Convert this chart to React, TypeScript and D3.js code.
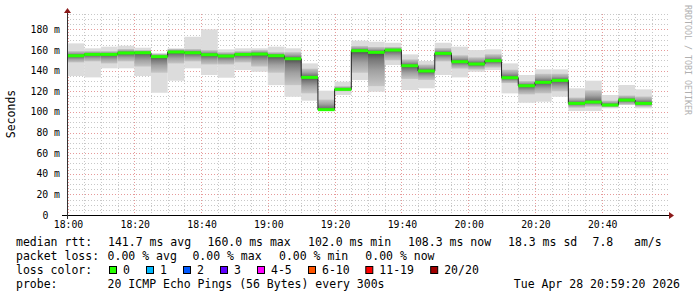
import React from "react";
import * as d3 from "d3";

// minutes after 18:00 at which each 5‑minute interval starts
const starts = d3.range(0, 175, 5);
const medians = [154.5,155.8,155.8,157.2,157.4,153.6,158.1,157.4,155.5,154.2,155.8,156.1,154.5,151.6,133.5,102.2,121.9,159.4,157.8,160.0,144.8,139.7,156.8,148.7,146.5,149.7,133.2,125.4,128.7,130.6,108.3,109.6,106.7,111.5,108.3];
const maxs = [166.5,161.7,163.3,164.2,162.3,156.8,161.7,172.9,180.1,160.7,161.7,161.7,163.3,161.7,147.1,120.6,129.3,169.1,168.1,167.1,155.8,149.4,167.1,163.3,160,160.7,147.1,135.8,141.3,141.3,122.9,130.3,116.4,126.1,121.9];
const mins = [134.8,133.5,142.3,142.3,134.8,118.6,130.3,142.3,135.8,133.2,140.6,139,126,114.7,110.9,101.2,116.4,130.9,119.6,145.5,121.2,122.9,135.8,133.5,139,140.6,118,108.9,109.9,114.7,100.9,100.9,103.5,106.7,103.5];
const upper = [159,159,159,161,160,156.5,161,161,160,158,159,160,158,158,142,112,125,164,163,163,151,146,162,155,153,156,141,130,137,137,114,121,111,116,115];
const lower = [148,149,147,149,144,138,147,149,146,146,148,144,138,126,118,101.5,120,138,125,150,132,131,149,142,141,143,128,117,118,120,104,105,104.5,107,105];

const xTicks = [0, 20, 40, 60, 80, 100, 120, 140, 160];
const xTickLabels = ["18:00","18:20","18:40","19:00","19:20","19:40","20:00","20:20","20:40"];
const yTicks = [0, 20, 40, 60, 80, 100, 120, 140, 160, 180];
const yTickLabels = ["0","20 m","40 m","60 m","80 m","100 m","120 m","140 m","160 m","180 m"];

const lossLabels = ["0","1","2","3","4-5","6-10","11-19","20/20"];
const lossColors = ["#26ff00","#00b8ff","#0059ff","#5e00ff","#ff00ff","#ff5500","#ff0000","#a10000"];

const statRow1 = ["141.7 ms avg","160.0 ms max","102.0 ms min","108.3 ms now","18.3 ms sd","7.8","am/s"];
const statRow2 = ["0.00 % avg","0.00 % max","0.00 % min","0.00 % now"];

const FONT = "'DejaVu Sans Mono', monospace";

export default function App() {
  const W = 697, H = 297;
  const x = d3.scaleLinear().domain([0, 180]).range([67.5, 668.5]);
  const y = d3.scaleLinear().domain([0, 195]).range([215, 14]);
  const px = (v: number) => Math.round(v) + 0.5;
  const plotL = 67, plotR = 668, plotT = 14, plotB = 215;

  const minorY = d3.range(5, 196, 5).filter((v) => v % 20 !== 0);
  const minorX = d3.range(5, 180, 5).filter((v) => v % 20 !== 0);

  const stepLine = d3
    .line<[number, number]>()
    .x((d) => d[0])
    .y((d) => d[1])
    .curve(d3.curveStepAfter);
  const stepPts: [number, number][] = starts.map((s, i) => [x(s), y(medians[i])]);
  stepPts.push([x(starts[starts.length - 1] + 5), y(medians[medians.length - 1])]);

  const rowX1 = [108, 207.6, 308, 408, 508, 592.5, 634];
  const rowX2 = [107.6, 192.4, 279, 365.3];
  const boxX = [109, 146, 183, 220, 257, 308, 365.3, 430.2];

  return (
    <svg width={W} height={H} style={{ position: "absolute", left: 0, top: 0, background: "#fff" }} fontFamily={FONT}>
      <defs>
        <linearGradient id="gUp" x1="0" y1="0" x2="0" y2="1">
          <stop offset="0" stopColor="#c6c6c6" />
          <stop offset="0.45" stopColor="#a2a2a2" />
          <stop offset="0.8" stopColor="#767676" />
          <stop offset="1" stopColor="#4a4a4a" />
        </linearGradient>
        <linearGradient id="gDn" x1="0" y1="0" x2="0" y2="1">
          <stop offset="0" stopColor="#4a4a4a" />
          <stop offset="0.2" stopColor="#767676" />
          <stop offset="0.55" stopColor="#a2a2a2" />
          <stop offset="1" stopColor="#c6c6c6" />
        </linearGradient>
      </defs>
      <rect x={0} y={0} width={W} height={H} fill="#fff" />

      {/* minor grid */}
      <g stroke="#c8c8c8" strokeWidth={1} strokeDasharray="1,2">
        {minorY.map((v) => (
          <line key={"my" + v} x1={plotL} x2={plotR} y1={px(y(v))} y2={px(y(v))} />
        ))}
        {minorX.map((v) => (
          <line key={"mx" + v} y1={plotT} y2={plotB} x1={px(x(v))} x2={px(x(v))} />
        ))}
      </g>
      {/* major grid */}
      <g stroke="#e69a9a" strokeWidth={1} strokeDasharray="1,2">
        {yTicks.slice(1).map((v) => (
          <line key={"My" + v} x1={plotL} x2={plotR} y1={px(y(v))} y2={px(y(v))} />
        ))}
        {xTicks.map((v) => (
          <line key={"Mx" + v} y1={plotT} y2={plotB} x1={px(x(v))} x2={px(x(v))} />
        ))}
      </g>

      {/* smoke */}
      {starts.map((s, i) => {
        const x0 = x(s), x1 = x(s + 5);
        return (
          <g key={"s" + i}>
            <rect x={x0} width={x1 - x0} y={y(maxs[i])} height={y(mins[i]) - y(maxs[i])} fill="#dcdcdc" />
            <rect x={x0} width={x1 - x0} y={y(upper[i])} height={Math.max(0, y(medians[i]) - y(upper[i]))} fill="url(#gUp)" />
            <rect x={x0} width={x1 - x0} y={y(medians[i])} height={Math.max(0, y(lower[i]) - y(medians[i]))} fill="url(#gDn)" />
          </g>
        );
      })}

      {/* median */}
      <path d={stepLine(stepPts) || ""} fill="none" stroke="#202020" strokeWidth={1} />
      {starts.map((s, i) => (
        <line key={"m" + i} x1={x(s)} x2={x(s + 5)} y1={y(medians[i])} y2={y(medians[i])} stroke="#26ff00" strokeWidth={3} />
      ))}

      {/* axes */}
      <line x1={62} x2={669} y1={215.5} y2={215.5} stroke="#000" strokeWidth={1} />
      <path d="M669,212 L674,215.5 L669,219 Z" fill="#8b1a1a" />
      <line x1={67.5} x2={67.5} y1={219} y2={13} stroke="#333" strokeWidth={1} />
      <path d="M64,13 L67.5,8 L71,13 Z" fill="#8b1a1a" />

      {/* tick labels */}
      <g fontSize={9.8} fill="#000">
        {yTicks.map((v, i) => (
          <text key={"yl" + v} x={v === 0 ? 48.5 : 60} y={y(v) + 3.5} textAnchor="end">
            {yTickLabels[i]}
          </text>
        ))}
        {xTicks.map((v, i) => (
          <text key={"xl" + v} x={x(v) + 1} y={227.5} textAnchor="middle">
            {xTickLabels[i]}
          </text>
        ))}
      </g>
      <text x={15} y={114} fontSize={11.5} textAnchor="middle" transform="rotate(-90 15 114)" fill="#000">
        Seconds
      </text>
      <text x={685} y={60} fontSize={8.3} textAnchor="middle" fill="#b0b0b0" transform="rotate(90 685 60)">
        RRDTOOL / TOBI OETIKER
      </text>

      {/* legend */}
      <g fontSize={11.5} fill="#000">
        <text x={16} y={245.5}>median rtt:</text>
        {statRow1.map((t, i) => (
          <text key={"r1" + i} x={rowX1[i]} y={245.5}>{t}</text>
        ))}
        <text x={16} y={259.5}>packet loss:</text>
        {statRow2.map((t, i) => (
          <text key={"r2" + i} x={rowX2[i]} y={259.5}>{t}</text>
        ))}
        <text x={16} y={273.5}>loss color:</text>
        {lossLabels.map((t, i) => (
          <g key={"lc" + i}>
            <rect x={boxX[i] + 0.5} y={266.5} width={7} height={7} fill={lossColors[i]} stroke="#000" strokeWidth={1} />
            <text x={boxX[i] + 14} y={273.5}>{t}</text>
          </g>
        ))}
        <text x={16} y={287.5}>probe:</text>
        <text x={107.6} y={287.5}>20 ICMP Echo Pings (56 Bytes) every 300s</text>
        <text x={680} y={287.5} textAnchor="end">Tue Apr 28 20:59:20 2026</text>
      </g>
    </svg>
  );
}
